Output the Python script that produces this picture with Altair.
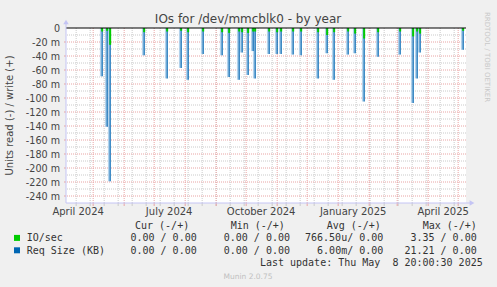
import altair as alt
import pandas as pd

# ---------------- data ----------------
spike_dates = ["2024-05-10", "2024-05-15", "2024-05-18", "2024-06-21", "2024-07-14",
               "2024-07-28", "2024-08-04", "2024-08-19", "2024-09-07", "2024-09-14",
               "2024-09-24", "2024-09-27", "2024-10-03", "2024-10-08", "2024-10-10",
               "2024-10-24", "2024-11-01", "2024-11-05", "2024-11-17", "2024-11-25",
               "2024-12-12", "2024-12-21", "2024-12-28", "2025-01-11", "2025-01-18",
               "2025-01-27", "2025-02-10", "2025-03-04", "2025-03-17", "2025-03-21",
               "2025-03-24", "2025-05-06"]
# read values (negative), in milli units
req_size_read = [-69, -141, -219, -39, -72, -57, -74, -37, -39, -70,
                 -74, -35, -67, -33, -72, -37, -37, -37, -38, -39,
                 -72, -36, -74, -38, -36, -105, -41, -38, -107, -72,
                 -35, -31]
io_read = [-5, -4, -24, -6, -5, -4, -6, -5, -6, -7,
           -5, -6, -7, -5, -5, -5, -6, -5, -5, -5,
           -6, -10, -6, -5, -8, -15, -6, -5, -12, -5,
           -8, -4]

month_labels = ["April 2024", "July 2024", "October 2024", "January 2025", "April 2025"]
month_label_dates = ["2024-04-16", "2024-07-16", "2024-10-16", "2025-01-16", "2025-04-16"]
y_ticks = list(range(-240, 1, 20))

legend_series = ["IO/sec", "Req Size (KB)"]
legend_colors = ["#00CC00", "#0066B3"]
legend_headers = ["Cur (-/+)", "Min (-/+)", "Avg (-/+)", "Max (-/+)"]
cur_vals = ["0.00 / 0.00", "0.00 / 0.00"]
min_vals = ["0.00 / 0.00", "0.00 / 0.00"]
avg_vals = ["766.50u/ 0.00", "6.00m/ 0.00"]
max_vals = ["3.35 / 0.00", "21.21 / 0.00"]
last_update = "Last update: Thu May\u00a0\u00a08 20:00:30 2025"
title_text = "IOs for /dev/mmcblk0 - by year"
y_title = "Units read (-) / write (+)"

# ---------------- scales ----------------
W, H = 400, 175
xscale = alt.Scale(type="utc", domain=[
    alt.DateTime(year=2024, month=4, date=3, hours=20, utc=True),
    alt.DateTime(year=2025, month=5, date=8, hours=20, utc=True)])
yscale = alt.Scale(domain=[-250, 0], nice=False, zero=False)


def X(f):
    return alt.X(f, type="temporal", scale=xscale, axis=None)


def Y(f):
    return alt.Y(f, type="quantitative", scale=yscale, axis=None)


def iso(d):
    return d + "T00:00:00Z"


spikes = pd.DataFrame({
    "date": [iso(d) for d in spike_dates],
    "req": req_size_read,
    "io": io_read,
    "zero": [0] * len(spike_dates),
})

month_starts = pd.date_range("2024-05-01", "2025-05-01", freq="MS")
x_major = pd.DataFrame({"date": [d.strftime("%Y-%m-%dT00:00:00Z") for d in month_starts]})
minor_days = pd.date_range("2024-04-14", "2025-05-08", freq="14D")
x_minor = pd.DataFrame({"date": [d.strftime("%Y-%m-%dT00:00:00Z") for d in minor_days]})
y_major = pd.DataFrame({"v": list(range(-240, 0, 20))})
y_minor = pd.DataFrame({"v": list(range(-230, 0, 20))})

RED = "#e9a4a4"
GRAY = "#cacaca"
AXIS = "#c4c4f4"
TXT = "#333333"

layers = []
# grid
layers.append(alt.Chart(x_minor).mark_rule(color=GRAY, strokeDash=[1, 1], strokeWidth=1).encode(x=X("date")))
layers.append(alt.Chart(y_minor).mark_rule(color=GRAY, strokeDash=[1, 1], strokeWidth=1).encode(y=Y("v")))
layers.append(alt.Chart(x_major).mark_rule(color=RED, strokeDash=[1, 1], strokeWidth=1).encode(x=X("date")))
layers.append(alt.Chart(y_major).mark_rule(color=RED, strokeDash=[1, 1], strokeWidth=1).encode(y=Y("v")))
# x ticks under axis
layers.append(alt.Chart(x_minor).mark_rule(color=GRAY, strokeWidth=1).encode(
    x=X("date"), y=alt.value(H), y2=alt.value(H + 3)))
layers.append(alt.Chart(x_major).mark_rule(color=RED, strokeWidth=1).encode(
    x=X("date"), y=alt.value(H), y2=alt.value(H + 3)))
# y ticks left of axis
layers.append(alt.Chart(y_major).mark_rule(color=RED, strokeWidth=1).encode(
    y=Y("v"), x=alt.value(-2), x2=alt.value(0)))

# spikes
base = alt.Chart(spikes)
layers.append(base.mark_rule(color="#a6cbe9", strokeWidth=2.5, xOffset=-1, opacity=0.85).encode(
    x=X("date"), y=Y("req"), y2=alt.Y2("zero")))
layers.append(base.mark_rule(color="#0066B3", strokeWidth=1.1).encode(
    x=X("date"), y=Y("req"), y2=alt.Y2("zero")))
layers.append(base.mark_rule(color="#00CC00", strokeWidth=2).encode(
    x=X("date"), y=Y("io"), y2=alt.Y2("zero")))

# zero line
layers.append(alt.Chart(alt.Data(values=[{"v": 0}])).mark_rule(color="black", strokeWidth=1).encode(
    y=Y("v:Q"), x=alt.value(0), x2=alt.value(W)))

# axis lines + arrows
layers.append(alt.Chart(alt.Data(values=[{}])).mark_rule(color=AXIS, strokeWidth=1).encode(
    x=alt.value(0), y=alt.value(-4), y2=alt.value(H)))
layers.append(alt.Chart(alt.Data(values=[{}])).mark_rule(color=AXIS, strokeWidth=1).encode(
    x=alt.value(0), x2=alt.value(W + 4), y=alt.value(H)))
layers.append(alt.Chart(alt.Data(values=[{}])).mark_point(
    shape="triangle-up", filled=True, color=AXIS, size=30, opacity=1).encode(
    x=alt.value(0), y=alt.value(-6)))
layers.append(alt.Chart(alt.Data(values=[{}])).mark_point(
    shape="triangle-right", filled=True, color=AXIS, size=30, opacity=1).encode(
    x=alt.value(W + 6), y=alt.value(H)))

# y labels
ylab = pd.DataFrame({"v": y_ticks, "t": ["0" if v == 0 else f"{v} m" for v in y_ticks]})
layers.append(alt.Chart(ylab).mark_text(align="right", baseline="middle", font="DejaVu Sans",
                                         fontSize=9.6, color="#444444", dy=1).encode(
    y=Y("v"), x=alt.value(-6), text="t:N"))
# x labels
xlab = pd.DataFrame({"date": [iso(d) for d in month_label_dates], "t": month_labels})
layers.append(alt.Chart(xlab).mark_text(align="center", baseline="alphabetic", font="DejaVu Sans",
                                         fontSize=10, color="#444444").encode(
    x=X("date"), y=alt.value(186.5), text="t:N"))


def txt(s, x, y, align="left", font="DejaVu Sans Mono", size=10, color=TXT, angle=None,
        baseline="alphabetic"):
    kw = dict(align=align, baseline=baseline, font=font, fontSize=size, color=color)
    if angle is not None:
        kw["angle"] = angle
    return alt.Chart(alt.Data(values=[{"t": s}])).mark_text(**kw).encode(
        x=alt.value(x), y=alt.value(y), text="t:N")


layers.append(txt(title_text, 182, -5, align="center", font="DejaVu Sans", size=12, color="#444444"))
layers.append(txt(y_title, -56, 87.5, align="center", font="DejaVu Sans", size=10,
                  color="#444444", angle=270, baseline="middle"))
layers.append(txt("RRDTOOL / TOBI OETIKER", 421, 29, align="center", font="DejaVu Sans", size=7,
                  color="#c8c8c8", angle=90, baseline="middle"))

header_x = [69, 164.7, 260.7, 356.7]
value_right = [130.7, 224, 317.3, 410.7]
for hx, h in zip(header_x, legend_headers):
    layers.append(txt(h, hx, 201))
row_y = [213.4, 225.8]
cols = [cur_vals, min_vals, avg_vals, max_vals]
for i, name in enumerate(legend_series):
    layers.append(alt.Chart(alt.Data(values=[{}])).mark_square(
        color=legend_colors[i], size=36, opacity=1).encode(
        x=alt.value(-49), y=alt.value(row_y[i] - 3.5)))
    layers.append(txt(name, -39.3, row_y[i]))
    for vx, col in zip(value_right, cols):
        layers.append(txt(col[i], vx, row_y[i], align="right"))
layers.append(txt(last_update, 416.7, 238.2, align="right"))
layers.append(txt("Munin 2.0.75", 182, 250.6, align="center", font="DejaVu Sans", size=7.5,
                  color="#c0c0c0"))

chart = alt.layer(*layers).properties(
    width=W, height=H,
    autosize=alt.AutoSizeParams(type="none"),
    padding={"left": 66, "top": 28, "right": 31, "bottom": 84},
    background="#F0F0F0",
).configure_view(stroke=None, fill="white")

chart.save("out.html", embed_options={"renderer": "svg", "actions": False})
